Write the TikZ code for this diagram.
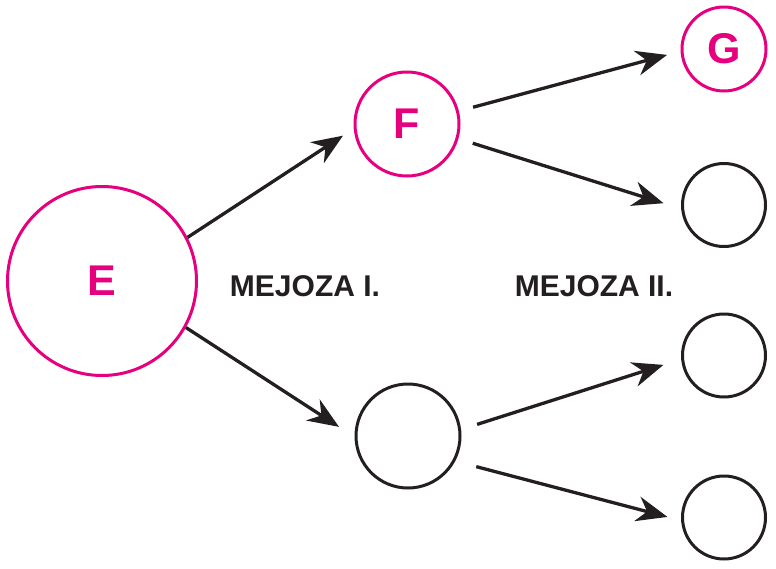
\documentclass[tikz,border=0pt]{standalone}
\usepackage{fontspec}
\setmainfont{Liberation Sans}
\usetikzlibrary{arrows.meta,shapes}
\definecolor{cellpink}{RGB}{230,0,126}
\definecolor{ink}{RGB}{35,31,32}
\tikzstyle{cell}=[circle,draw=ink,line width=3pt,minimum size=83pt,inner sep=0pt]
\tikzstyle{marked cell}=[cell,draw=cellpink,text=cellpink,font=\fontsize{43}{43}\selectfont\bfseries]
\tikzstyle{stage}=[inner sep=0pt,text=ink,font=\fontsize{30}{30}\selectfont\bfseries]
\tikzstyle{edge}=[draw=ink,line width=3.3pt,-{Stealth[length=31pt,width=25pt,inset=10pt]}]

\begin{document}
\begin{tikzpicture}[x=1pt,y=-1pt]
    \useasboundingbox (0,0) rectangle (776,568);
    % Mother cell and the cells of the first division
    \node[marked cell,minimum size=189pt] (E) at (102,281) {E};
    \node[marked cell,minimum size=104pt] (F) at (407,124) {F};
    \node[cell,minimum size=104pt] (H) at (408,436) {};

    % Cells of the second division
    \node[marked cell,minimum size=84pt] (G) at (724,49) {G};
    \foreach \pos/\name in {{(724,205)/G2}, {(724,355.5)/G3}, {(724,517.5)/G4}}
        \node[cell] (\name) at \pos {};

    % Stage labels
    \node[stage] (meioza1) at (305,286) {MEJOZA I.};
    \node[stage] (meioza2) at (594,286) {MEJOZA II.};

    % Arrows of the first division
    \path[edge,shorten >=12.8pt] (E.27) -- (F.185);
    \path[edge,shorten >=18.5pt] (E.331) -- (H.181);

    % Arrows of the second division
    \foreach \source/\from/\dest/\to/\sa/\sb in {F/14/G/183/14.7pt/14pt, F/344/G2/185/15pt/18.5pt, H/7/G3/185/16.8pt/18.6pt, H/332/G4/184/21.7pt/14.1pt}
        \path[edge,shorten <=\sa,shorten >=\sb] (\source.\from) -- (\dest.\to);

\end{tikzpicture}
\end{document}
